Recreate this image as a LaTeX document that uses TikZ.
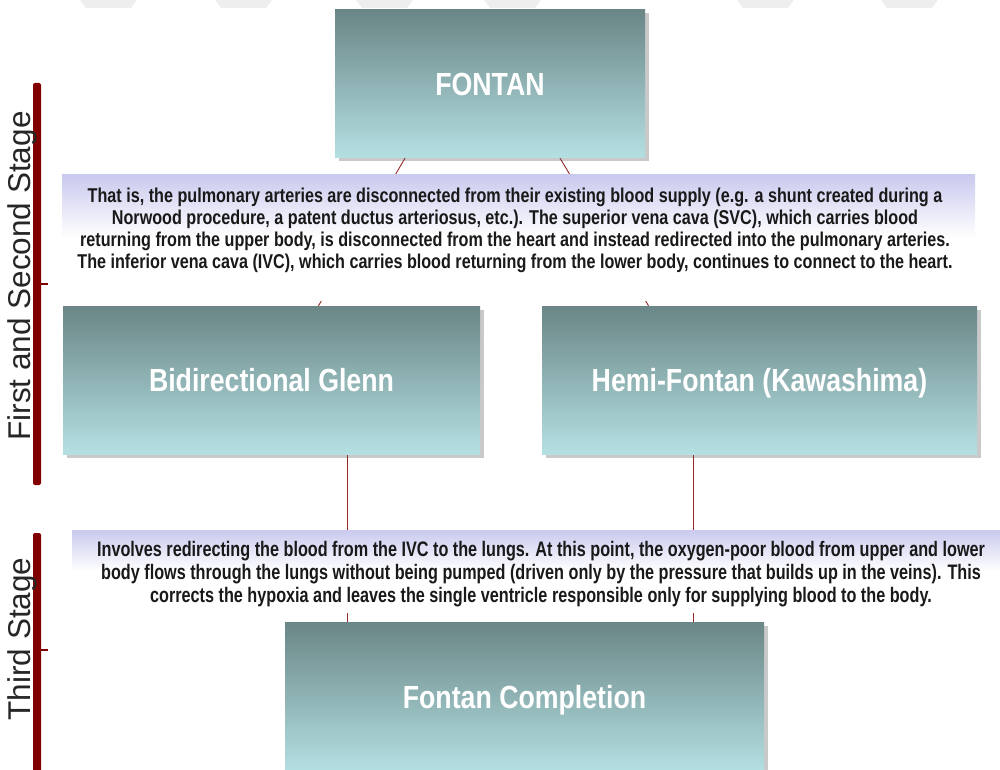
\documentclass[tikz,border=0pt]{standalone}
\usepackage{fontspec}
\setmainfont{Liberation Sans}
\newfontfamily\titlefont[FakeStretch=0.835]{Liberation Sans}
\newfontfamily\notefont[FakeStretch=0.808]{Liberation Sans}
\newfontfamily\notefontb[FakeStretch=0.772]{Liberation Sans}
\usetikzlibrary {positioning, calc, shadows, backgrounds}
\definecolor{boxtop}{RGB}{106,134,134}
\definecolor{boxbot}{RGB}{181,224,227}
\definecolor{lav}{RGB}{201,202,238}
\definecolor{stagered}{RGB}{128,0,0}
\definecolor{linkred}{RGB}{150,40,40}
\definecolor{wmark}{RGB}{238,238,238}
\tikzset{
    stepbox/.style={rectangle, top color=boxtop, bottom color=boxbot, text=white,
        text height=23pt, text depth=0pt,
        font=\titlefont\bfseries\fontsize{32}{36}\selectfont,
        drop shadow={shadow xshift=3.5pt, shadow yshift=-3.5pt, opacity=.3, fill=black!70}},
    notetext/.style={rectangle, text=black!90, align=center, inner sep=0pt},
    notepanel/.style={notetext, top color=lav, bottom color=white, middle color=white},
    link/.style={draw=linkred, line width=.9pt},
    stagebar/.style={fill=stagered, rectangle, rounded corners=2pt, inner sep=0pt, minimum width=8pt},
    stagelabel/.style={rotate=90, text=black!85, font=\fontsize{31.5}{32}\selectfont}
}

\begin{document}
\begin{tikzpicture}[x=1pt, y=-1pt]
    \useasboundingbox (0,0) rectangle (1000,770);
    % faint marks along the top edge
    \foreach \x in {80, 215, 356, 484, 737, 881}{
        \fill[wmark] (\x,0) -- ++(57,0) -- ++(-6,8) -- ++(-45,0) -- cycle;
    }
    \node[stepbox, minimum width=310pt, minimum height=148pt] (fontan) at (490,84) {FONTAN};
    \node[stepbox, minimum width=417pt, minimum height=148pt] (glenn) at (271.5,380) {Bidirectional Glenn};
    \node[stepbox, minimum width=435pt, minimum height=148pt] (hemi) at (759.5,380) {Hemi-Fontan (Kawashima)};
    \node[stepbox, minimum width=479pt, minimum height=150pt] (fcomp) at (524.5,697) {Fontan Completion};

    \node[notepanel, minimum width=913pt, minimum height=125pt] (note1) at (518.5,237.5) {};
    \node[notetext, font=\notefont\bfseries\fontsize{20}{22}\selectfont] (note1txt) at (515,230)
        {That is, the pulmonary arteries are disconnected from their existing blood supply (e.g. a shunt created during a\\
         Norwood procedure, a patent ductus arteriosus, etc.). The superior vena cava (SVC), which carries blood\\
         returning from the upper body, is disconnected from the heart and instead redirected into the pulmonary arteries.\\
         The inferior vena cava (IVC), which carries blood returning from the lower body, continues to connect to the heart.};
    \node[notepanel, minimum width=938pt, minimum height=82pt] (note2) at (541,571) {};
    \node[notetext, font=\notefontb\bfseries\fontsize{21}{23}\selectfont] (note2txt) at (541,574)
        {Involves redirecting the blood from the IVC to the lungs. At this point, the oxygen-poor blood from upper and lower\\
         body flows through the lungs without being pumped (driven only by the pressure that builds up in the veins). This\\
         corrects the hypoxia and leaves the single ventricle responsible only for supplying blood to the body.};

    \begin{scope}[on background layer]
        \draw[link] ([xshift=-85pt]fontan.south) -- ([xshift=47pt]glenn.north);
        \draw[link] ([xshift=70pt]fontan.south) -- ([xshift=-111pt]hemi.north);
        \draw[link] ([xshift=75.5pt]glenn.south) coordinate (g1) -- (g1 |- fcomp.north);
        \draw[link] ([xshift=-66.5pt]hemi.south) coordinate (h1) -- (h1 |- fcomp.north);
    \end{scope}

    % stage brackets
    \node[stagebar, minimum height=402pt] (bar1) at (37,284) {};
    \node[stagebar, minimum height=242pt] (bar2) at (37,654) {};
    \draw[stagered, line width=1.2pt] (bar1.east) -- ++(7,0);
    \draw[stagered, line width=1.2pt] ([yshift=4pt]bar2.east) -- ++(7,0);
    \node[stagelabel] (lab1) at (22,276) {First and Second Stage};
    \node[stagelabel] (lab2) at (22,639) {Third Stage};
\end{tikzpicture}
\end{document}
